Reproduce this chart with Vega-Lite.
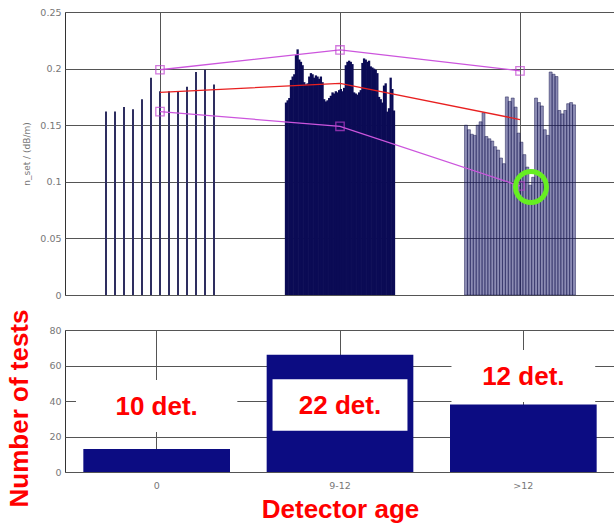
{
"$schema": "https://vega.github.io/schema/vega-lite/v6.json",
"background": "white",
"padding": {"left": 6, "top": 6, "right": 0, "bottom": 0},
"spacing": 8,
"config": {
  "view": {"stroke": "#333333", "strokeWidth": 1},
  "axis": {"gridColor": "#555555", "gridWidth": 1, "gridOpacity": 1, "labelFont": "DejaVu Sans", "labelFontSize": 9.5, "labelColor": "#777777", "domain": false, "ticks": false, "labelPadding": 4}
},
"datasets": {
  "tests": [
    {"g":"0","x":-0.3,"v":0.162},{"g":"0","x":-0.25,"v":0.162},{"g":"0","x":-0.2,"v":0.166},{"g":"0","x":-0.15,"v":0.164},{"g":"0","x":-0.1,"v":0.173},{"g":"0","x":-0.05,"v":0.192},{"g":"0","x":0,"v":0.180},{"g":"0","x":0.05,"v":0.180},{"g":"0","x":0.1,"v":0.180},{"g":"0","x":0.15,"v":0.184},{"g":"0","x":0.2,"v":0.197},{"g":"0","x":0.25,"v":0.199},{"g":"0","x":0.3,"v":0.186},
    {"g":"9-12","x":0.7,"v":0.170},{"g":"9-12","x":0.7092,"v":0.172},{"g":"9-12","x":0.7185,"v":0.174},{"g":"9-12","x":0.7277,"v":0.190},{"g":"9-12","x":0.7369,"v":0.193},{"g":"9-12","x":0.7462,"v":0.195},{"g":"9-12","x":0.7554,"v":0.212},{"g":"9-12","x":0.7646,"v":0.217},{"g":"9-12","x":0.7738,"v":0.208},{"g":"9-12","x":0.7831,"v":0.206},{"g":"9-12","x":0.7923,"v":0.203},{"g":"9-12","x":0.8015,"v":0.188},{"g":"9-12","x":0.8108,"v":0.186},{"g":"9-12","x":0.82,"v":0.187},{"g":"9-12","x":0.8292,"v":0.193},{"g":"9-12","x":0.8385,"v":0.196},{"g":"9-12","x":0.8477,"v":0.195},{"g":"9-12","x":0.8569,"v":0.192},{"g":"9-12","x":0.8662,"v":0.194},{"g":"9-12","x":0.8754,"v":0.193},{"g":"9-12","x":0.8846,"v":0.191},{"g":"9-12","x":0.8938,"v":0.193},{"g":"9-12","x":0.9031,"v":0.188},{"g":"9-12","x":0.9123,"v":0.173},{"g":"9-12","x":0.9215,"v":0.171},{"g":"9-12","x":0.9308,"v":0.172},{"g":"9-12","x":0.94,"v":0.174},{"g":"9-12","x":0.9492,"v":0.176},{"g":"9-12","x":0.9585,"v":0.179},{"g":"9-12","x":0.9677,"v":0.178},{"g":"9-12","x":0.9769,"v":0.180},{"g":"9-12","x":0.9862,"v":0.179},{"g":"9-12","x":0.9954,"v":0.181},{"g":"9-12","x":1.0046,"v":0.182},{"g":"9-12","x":1.0138,"v":0.180},{"g":"9-12","x":1.0231,"v":0.183},{"g":"9-12","x":1.0323,"v":0.203},{"g":"9-12","x":1.0415,"v":0.206},{"g":"9-12","x":1.0508,"v":0.207},{"g":"9-12","x":1.06,"v":0.206},{"g":"9-12","x":1.0692,"v":0.204},{"g":"9-12","x":1.0785,"v":0.179},{"g":"9-12","x":1.0877,"v":0.178},{"g":"9-12","x":1.0969,"v":0.177},{"g":"9-12","x":1.1062,"v":0.179},{"g":"9-12","x":1.1154,"v":0.181},{"g":"9-12","x":1.1246,"v":0.205},{"g":"9-12","x":1.1338,"v":0.209},{"g":"9-12","x":1.1431,"v":0.208},{"g":"9-12","x":1.1523,"v":0.206},{"g":"9-12","x":1.1615,"v":0.207},{"g":"9-12","x":1.1708,"v":0.202},{"g":"9-12","x":1.18,"v":0.201},{"g":"9-12","x":1.1892,"v":0.200},{"g":"9-12","x":1.1985,"v":0.199},{"g":"9-12","x":1.2077,"v":0.196},{"g":"9-12","x":1.2169,"v":0.175},{"g":"9-12","x":1.2262,"v":0.173},{"g":"9-12","x":1.2354,"v":0.170},{"g":"9-12","x":1.2446,"v":0.185},{"g":"9-12","x":1.2538,"v":0.187},{"g":"9-12","x":1.2631,"v":0.162},{"g":"9-12","x":1.2723,"v":0.165},{"g":"9-12","x":1.2815,"v":0.192},{"g":"9-12","x":1.2908,"v":0.182},{"g":"9-12","x":1.3,"v":0.163},
    {"g":">12","x":1.7,"v":0.150},{"g":">12","x":1.7162,"v":0.146},{"g":">12","x":1.7324,"v":0.142},{"g":">12","x":1.7486,"v":0.141},{"g":">12","x":1.7649,"v":0.150},{"g":">12","x":1.7811,"v":0.153},{"g":">12","x":1.7973,"v":0.161},{"g":">12","x":1.8135,"v":0.140},{"g":">12","x":1.8297,"v":0.138},{"g":">12","x":1.8459,"v":0.136},{"g":">12","x":1.8622,"v":0.131},{"g":">12","x":1.8784,"v":0.128},{"g":">12","x":1.8946,"v":0.121},{"g":">12","x":1.9108,"v":0.116},{"g":">12","x":1.927,"v":0.175},{"g":">12","x":1.9432,"v":0.171},{"g":">12","x":1.9595,"v":0.174},{"g":">12","x":1.9757,"v":0.166},{"g":">12","x":1.9919,"v":0.143},{"g":">12","x":2.0081,"v":0.135},{"g":">12","x":2.0243,"v":0.124},{"g":">12","x":2.0405,"v":0.113},{"g":">12","x":2.0568,"v":0.097},{"g":">12","x":2.073,"v":0.104},{"g":">12","x":2.0892,"v":0.174},{"g":">12","x":2.1054,"v":0.170},{"g":">12","x":2.1216,"v":0.167},{"g":">12","x":2.1378,"v":0.146},{"g":">12","x":2.1541,"v":0.141},{"g":">12","x":2.1703,"v":0.197},{"g":">12","x":2.1865,"v":0.195},{"g":">12","x":2.2027,"v":0.193},{"g":">12","x":2.2189,"v":0.163},{"g":">12","x":2.2351,"v":0.160},{"g":">12","x":2.2514,"v":0.163},{"g":">12","x":2.2676,"v":0.169},{"g":">12","x":2.2838,"v":0.170},{"g":">12","x":2.3,"v":0.168}
  ],
  "summary": [
    {"x":0,"stat":"max","v":0.199},{"x":1,"stat":"max","v":0.2165},{"x":2,"stat":"max","v":0.198},
    {"x":0,"stat":"mean","v":0.179},{"x":1,"stat":"mean","v":0.187},{"x":2,"stat":"mean","v":0.155},
    {"x":0,"stat":"min","v":0.162},{"x":1,"stat":"min","v":0.149},{"x":2,"stat":"min","v":0.0963}
  ],
  "highlight": [{"x":2.061,"v":0.0954}],
  "counts": [{"age":"0","n":13},{"age":"9-12","n":66},{"age":">12","n":38}],
  "boxes": [
    {"age":"0","n":22.6,"hi":51.8},
    {"age":"9-12","n":23.2,"hi":52.3},
    {"age":">12","n":39.5,"hi":68.7}
  ],
  "labels": [
    {"age":"0","n":36.5,"label":"10 det."},
    {"age":"9-12","n":37,"label":"22 det."},
    {"age":">12","n":53.8,"label":"12 det."}
  ]
},
"vconcat": [
  {
    "width": 550,
    "height": 283,
    "encoding": {
      "x": {"field":"x","type":"quantitative","scale":{"domain":[-0.5,2.5],"nice":false,"zero":false},"axis":{"values":[0,1,2],"labels":false,"title":null,"grid":true}},
      "y": {"field":"v","type":"quantitative","scale":{"domain":[0,0.25],"nice":false},"axis":{"values":[0,0.05,0.1,0.15,0.2,0.25],"format":"~g","title":"n_set / (dB/m)","titleFont":"DejaVu Sans","titleFontSize":9,"titleFontWeight":"normal","titleColor":"#777777","titlePadding":8}}
    },
    "layer": [
      {"data":{"name":"tests"},"transform":[{"filter":"datum.g == '0'"}],"mark":{"type":"bar","orient":"vertical","width":2,"color":"#2e2e60"}},
      {"data":{"name":"tests"},"transform":[{"filter":"datum.g == '9-12'"}],"mark":{"type":"bar","orient":"vertical","width":2.3,"color":"#0b0b55"}},
      {"data":{"name":"tests"},"transform":[{"filter":"datum.g == '>12'"}],"mark":{"type":"bar","orient":"vertical","width":3,"fill":"#1a1a6a","fillOpacity":0.5,"stroke":"#1a1a50","strokeWidth":0.6,"strokeOpacity":0.8}},
      {"data":{"name":"summary"},"mark":{"type":"line","strokeWidth":1.3},"encoding":{"color":{"field":"stat","type":"nominal","scale":{"domain":["max","mean","min"],"range":["#cc55dd","#e82020","#cc55dd"]},"legend":null}}},
      {"data":{"name":"summary"},"transform":[{"filter":"datum.stat != 'mean'"}],"mark":{"type":"point","shape":"square","filled":false,"stroke":"#c040d0","strokeWidth":1.3,"size":70}},
      {"data":{"name":"highlight"},"mark":{"type":"point","shape":"circle","filled":false,"stroke":"#66ee22","strokeWidth":5,"size":960,"opacity":1}}
    ]
  },
  {
    "width": 550,
    "height": 142,
    "encoding": {
      "x": {"field":"age","type":"nominal","sort":["0","9-12",">12"],"scale":{"paddingInner":0.2,"paddingOuter":0.1},"axis":{"labelAngle":0,"grid":true,"bandPosition":0.5,"labelPadding":8,"title":"Detector age","titleColor":"#ff0000","titleFont":"Liberation Sans","titleFontSize":26,"titleFontWeight":"bold","titlePadding":7}},
      "y": {"field":"n","type":"quantitative","scale":{"domain":[0,80],"nice":false},"axis":{"values":[0,20,40,60,80],"title":"Number of tests","titleColor":"#ff0000","titleFont":"Liberation Sans","titleFontSize":26,"titleFontWeight":"bold","titlePadding":16,"titleY":78}}
    },
    "layer": [
      {"data":{"name":"counts"},"mark":{"type":"bar","color":"#0c0c82"}},
      {"data":{"name":"boxes"},"transform":[{"filter":"datum.age == '0'"}],"mark":{"type":"bar","color":"white","width":{"band":1.1}},"encoding":{"y2":{"field":"hi"}}},
      {"data":{"name":"boxes"},"transform":[{"filter":"datum.age == '9-12'"}],"mark":{"type":"bar","color":"white","width":{"band":0.92}},"encoding":{"y2":{"field":"hi"}}},
      {"data":{"name":"boxes"},"transform":[{"filter":"datum.age == '>12'"}],"mark":{"type":"bar","color":"white","width":{"band":0.98}},"encoding":{"y2":{"field":"hi"}}},
      {"data":{"name":"labels"},"mark":{"type":"text","font":"Liberation Sans","fontSize":26,"fontWeight":"bold","color":"#ff0000","align":"center","baseline":"middle"},"encoding":{"text":{"field":"label"}}}
    ]
  }
]
}
